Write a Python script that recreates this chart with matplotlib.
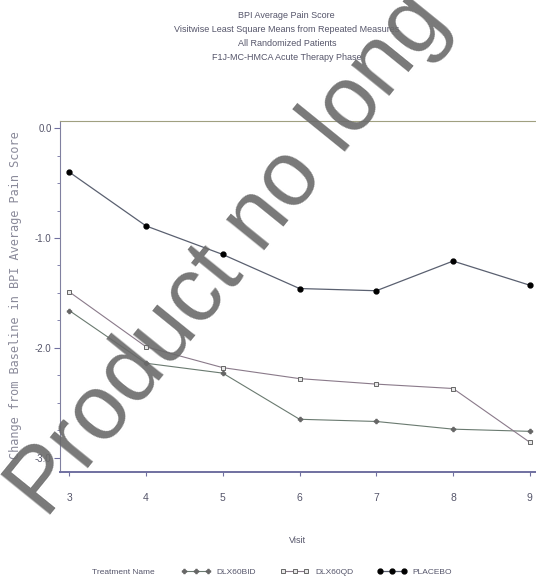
import matplotlib
matplotlib.use('Agg')
import matplotlib.pyplot as plt
from matplotlib.lines import Line2D
from matplotlib.ticker import MultipleLocator

visits = [3, 4, 5, 6, 7, 8, 9]
dlx60bid = [-1.66, -2.14, -2.23, -2.65, -2.67, -2.74, -2.76]
dlx60qd = [-1.49, -1.99, -2.18, -2.28, -2.33, -2.37, -2.86]
placebo = [-0.40, -0.89, -1.15, -1.46, -1.48, -1.21, -1.43]

titles = ['BPI Average Pain Score',
          'Visitwise Least Square Means from Repeated Measures',
          'All Randomized Patients',
          'F1J-MC-HMCA Acute Therapy Phase']

narrow = 'Liberation Sans'
txt_col = '#55556a'

fig = plt.figure(figsize=(5.36, 5.79), dpi=100)
ax = fig.add_axes([60 / 536, 1 - 472 / 579, 476 / 536, 351 / 579])

ax.plot(visits, dlx60bid, color='#6a7a70', linewidth=0.8, marker='P', markersize=3.5,
        markerfacecolor='#666666', markeredgecolor='#555555', markeredgewidth=0.4, label='DLX60BID')
ax.plot(visits, dlx60qd, color='#8a7a8a', linewidth=0.8, marker='s', markersize=3.5,
        markerfacecolor='#e8e8e8', markeredgecolor='#666666', markeredgewidth=0.7, label='DLX60QD')
ax.plot(visits, placebo, color='#5a6070', linewidth=0.9, marker='o', markersize=3.5,
        markerfacecolor='black', markeredgecolor='black', label='PLACEBO')

ax.set_xlim(2.88, 9.08)
ax.set_ylim(-3.13, 0.065)
ax.set_xticks(visits)
ax.yaxis.set_minor_locator(MultipleLocator(0.25))
ax.set_yticks([0.0, -1.0, -2.0, -3.0])
ax.set_yticklabels(['0.0', '-1.0', '-2.0', '-3.0'])

ax.spines['right'].set_visible(False)
ax.spines['top'].set_color('#a0a080')
ax.spines['left'].set_color('#8080a0')
ax.spines['bottom'].set_color('#7070a0')
ax.spines['bottom'].set_linewidth(1.4)

ax.tick_params(axis='x', direction='out', length=3, pad=12, colors='#7070a0', labelcolor=txt_col, labelsize=7.5)
ax.tick_params(axis='y', which='major', direction='out', length=4, pad=2, colors='#7070a0', labelcolor=txt_col, labelsize=7)
ax.tick_params(axis='y', which='minor', direction='out', length=2.5, colors='#7070a0')
for lab in ax.get_xticklabels() + ax.get_yticklabels():
    lab.set_family(narrow)

ax.set_xlabel('Visit', family=narrow, fontsize=6.5, color=txt_col, labelpad=24)
fig.text(16 / 536, 0.49, 'Change from Baseline in BPI Average Pain Score', rotation=90,
         ha='center', va='center', fontsize=8.6, color='#8a8a9a', family='DejaVu Sans Mono')

for i, t in enumerate(titles):
    fig.text(0.535, 1 - (16 + 14 * i) / 579, t, ha='center', va='center',
             family=narrow, fontsize=6.5, color=txt_col)

# legend row at bottom
fig.text(92 / 536, 1 - 572 / 579, 'Treatment Name', ha='left', va='center',
         family=narrow, fontsize=6, color=txt_col)
handles = [
    Line2D([], [], color='#6a7a70', linewidth=0.8, marker='P', markersize=3.5,
           markerfacecolor='#666666', markeredgecolor='#555555', markeredgewidth=0.4),
    Line2D([], [], color='#8a7a8a', linewidth=0.8, marker='s', markersize=3.5,
           markerfacecolor='#e8e8e8', markeredgecolor='#666666', markeredgewidth=0.7),
    Line2D([], [], color='#5a6070', linewidth=0.9, marker='o', markersize=3.5,
           markerfacecolor='black', markeredgecolor='black'),
]
leg = fig.legend(handles, ['DLX60BID', 'DLX60QD', 'PLACEBO'], loc='center',
                 bbox_to_anchor=(317 / 536, 1 - 572 / 579), ncol=3, frameon=False,
                 handlelength=3.4, handletextpad=0.8, columnspacing=2.9,
                 prop={'family': narrow, 'size': 6}, numpoints=3)
for t in leg.get_texts():
    t.set_color(txt_col)

# watermark (only the visible part of it)
fig.text(46 / 536, 1 - 520 / 579, 'Product no long', rotation=51, rotation_mode='anchor',
         ha='left', va='baseline', fontsize=66, color='#6a6a6a', alpha=0.9,
         family='Liberation Sans', zorder=10)

fig.savefig('out.png', dpi=100)
